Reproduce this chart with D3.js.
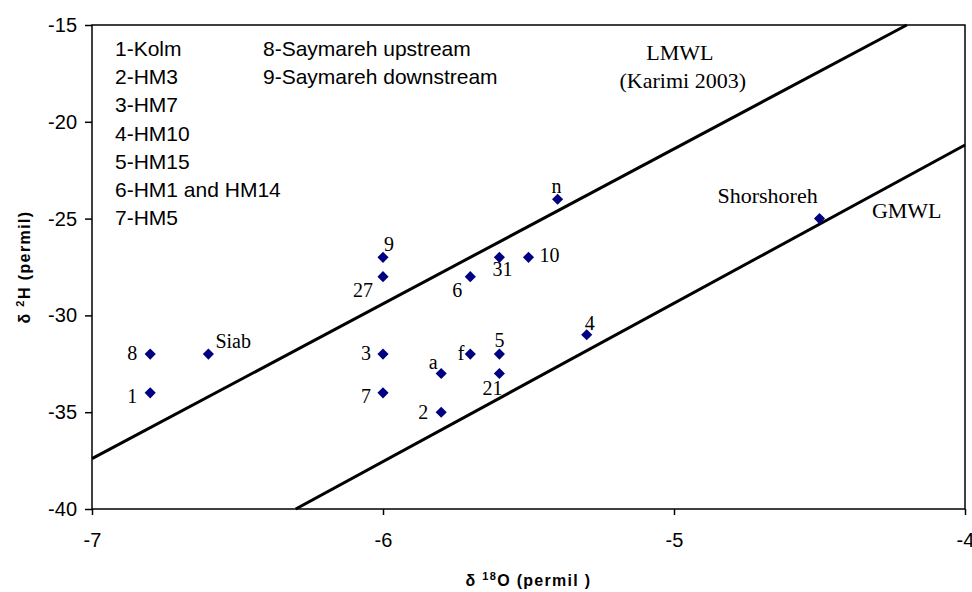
<!DOCTYPE html>
<html>
<head>
<meta charset="utf-8">
<script src="https://cdn.jsdelivr.net/npm/d3@7"></script>
<style>
  body { margin: 0; background: #fff; }
  .axis text { font-family: "Liberation Sans", Arial, sans-serif; font-size: 20px; fill: #000; }
  .axis path, .axis line { stroke: #000; stroke-width: 1.5; }
  .legend { font-family: "Liberation Sans", Arial, sans-serif; font-size: 21px; }
  .lbl { font-family: "Liberation Serif", "Times New Roman", serif; font-size: 20px; }
  .note { font-family: "Liberation Serif", "Times New Roman", serif; font-size: 22px; }
  .title { font-family: "Liberation Sans", Arial, sans-serif; font-weight: bold; }
</style>
</head>
<body>
<div id="chart"></div>
<script>
// samples: names, delta 18O, delta 2H
var pointNames = ["8", "1", "Siab", "3", "7", "a", "2", "f", "5", "21", "4",
                  "9", "27", "6", "31", "10", "n", "Shorshoreh"];
var d18O = [-6.8, -6.8, -6.6, -6.0, -6.0, -5.8, -5.8, -5.7, -5.6, -5.6, -5.3,
            -6.0, -6.0, -5.7, -5.6, -5.5, -5.4, -4.5];
var d2H  = [-32, -34, -32, -32, -34, -33, -35, -32, -32, -33, -31,
            -27, -28, -28, -27, -27, -24, -25];

// meteoric water lines (end points)
var lmwlX = [-7, -4.2];
var lmwlY = [-37.4, -15];
var gmwlX = [-6.3, -4];
var gmwlY = [-40, -21.2];

var xTicks = [-7, -6, -5, -4];
var yTicks = [-15, -20, -25, -30, -35, -40];

var legendLeft  = ["1-Kolm", "2-HM3", "3-HM7", "4-HM10", "5-HM15", "6-HM1 and HM14", "7-HM5"];
var legendRight = ["8-Saymareh upstream", "9-Saymareh downstream"];

// where each point label sits relative to its marker [dx, dy, anchor]
var labelPos = [
  [-13, 6, "end"], [-13, 10, "end"], [7, -6, "start"], [-12, 6, "end"], [-12, 10, "end"],
  [-8, -4, "middle"], [-13, 7, "end"], [-6, 6, "end"], [0, -7, "middle"], [-7, 22, "middle"],
  [3, -5, "middle"], [1, -6, "start"], [-10, 20, "end"], [-8, 20, "end"], [3, 19, "middle"],
  [11, 5, "start"], [-1, -6, "middle"], [-102, -16, "start"]
];

var W = 972, H = 592;
var margin = {top: 25, right: 7, bottom: 83, left: 92};
var width = W - margin.left - margin.right;
var height = H - margin.top - margin.bottom;

var svg = d3.select("#chart").append("svg")
    .attr("width", W)
    .attr("height", H)
  .append("g")
    .attr("transform", "translate(" + margin.left + "," + margin.top + ")");

var x = d3.scaleLinear().domain([-7, -4]).range([0, width]);
var y = d3.scaleLinear().domain([-40, -15]).range([height, 0]);

// plain hyphen like the original, not the unicode minus
var fmt = function(d) { return String(d); };

// plot frame
svg.append("rect")
  .attr("width", width)
  .attr("height", height)
  .attr("fill", "none")
  .attr("stroke", "#000")
  .attr("stroke-width", 1.5);

svg.append("g")
    .attr("class", "axis x")
    .attr("transform", "translate(0," + height + ")")
    .call(d3.axisBottom(x).tickValues(xTicks).tickSize(6).tickSizeOuter(0).tickPadding(18)
      .tickFormat(fmt))
    .call(function(g) { g.select(".domain").remove(); });

svg.append("g")
    .attr("class", "axis y")
    .call(d3.axisLeft(y).tickValues(yTicks).tickSize(7).tickSizeOuter(0).tickPadding(8)
      .tickFormat(fmt))
    .call(function(g) { g.select(".domain").remove(); });

// the two water lines
var line = d3.line()
  .x(function(d) { return x(d[0]); })
  .y(function(d) { return y(d[1]); });

[[lmwlX, lmwlY], [gmwlX, gmwlY]].forEach(function(l) {
  svg.append("path")
    .datum(d3.zip(l[0], l[1]))
    .attr("d", line)
    .attr("fill", "none")
    .attr("stroke", "#000")
    .attr("stroke-width", 3);
});

var data = pointNames.map(function(n, i) {
  return {name: n, x: d18O[i], y: d2H[i], pos: labelPos[i]};
});

var diamond = d3.symbol().type(d3.symbolSquare).size(62);

svg.selectAll(".pt")
  .data(data)
  .enter().append("path")
    .attr("class", "pt")
    .attr("d", diamond)
    .attr("fill", "#000080")
    .attr("transform", function(d) {
      return "translate(" + x(d.x) + "," + y(d.y) + ") rotate(45)";
    });

svg.selectAll(".lbl")
  .data(data)
  .enter().append("text")
    .attr("class", function(d) { return d.name === "Shorshoreh" ? "lbl note" : "lbl"; })
    .attr("x", function(d) { return x(d.x) + d.pos[0]; })
    .attr("y", function(d) { return y(d.y) + d.pos[1]; })
    .attr("text-anchor", function(d) { return d.pos[2]; })
    .text(function(d) { return d.name; });

// line names
svg.append("text").attr("class", "note")
  .attr("x", x(-4.98)).attr("y", y(-16.81))
  .attr("text-anchor", "middle").text("LMWL");
svg.append("text").attr("class", "note")
  .attr("x", x(-4.97)).attr("y", y(-18.26))
  .attr("text-anchor", "middle").text("(Karimi 2003)");
svg.append("text").attr("class", "note")
  .attr("x", x(-4.32)).attr("y", y(-24.97))
  .text("GMWL");

// sample key
svg.selectAll(".legL")
  .data(legendLeft)
  .enter().append("text")
    .attr("class", "legend")
    .attr("x", 23)
    .attr("y", function(d, i) { return 31 + i * 28.2; })
    .text(function(d) { return d; });

svg.selectAll(".legR")
  .data(legendRight)
  .enter().append("text")
    .attr("class", "legend")
    .attr("x", 171)
    .attr("y", function(d, i) { return 31 + i * 28.2; })
    .text(function(d) { return d; });

// axis titles
var xt = svg.append("text")
  .attr("class", "title")
  .attr("x", width / 2)
  .attr("y", height + 77)
  .attr("text-anchor", "middle")
  .style("font-size", "16px")
  .style("letter-spacing", "1.3px");
xt.append("tspan").text("δ ");
xt.append("tspan").attr("dy", -6).style("font-size", "11px").text("18");
xt.append("tspan").attr("dy", 6).text("O (permil )");

var yt = svg.append("text")
  .attr("class", "title")
  .attr("transform", "translate(" + (30 - margin.left) + "," + (height / 2) + ") rotate(-90)")
  .attr("text-anchor", "middle")
  .style("font-size", "16px")
  .style("letter-spacing", "1.4px");
yt.append("tspan").text("δ ");
yt.append("tspan").attr("dy", -6).style("font-size", "11px").text("2");
yt.append("tspan").attr("dy", 6).text("H (permil)");
</script>
</body>
</html>
